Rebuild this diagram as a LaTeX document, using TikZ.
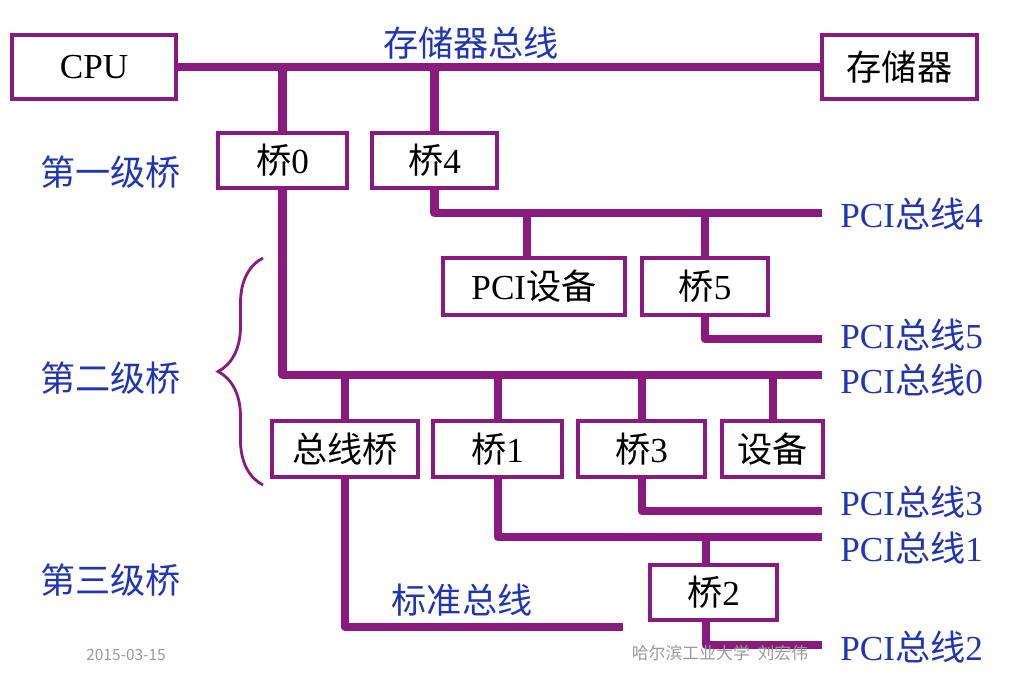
\documentclass[tikz,border=0pt]{standalone}
\usepackage{fontspec}
\setmainfont{Liberation Serif}
\newfontfamily\zhfont{Noto Sans CJK SC}
\newcommand{\zh}[1]{{\zhfont #1}}
\usepackage{tikz}
\usetikzlibrary{decorations.pathreplacing}
\definecolor{BusPurple}{HTML}{8A1A7E}
\definecolor{LabelBlue}{HTML}{2035B5}
\definecolor{FootGray}{HTML}{9A9A9A}

\begin{document}
\begin{tikzpicture}[x=0.025cm,y=-0.025cm,
 unitbox/.style={draw=BusPurple,line width=2.6pt,fill=white,inner sep=0pt,minimum height=1.375cm,font=\fontsize{25}{30}\selectfont},
 bus/.style={draw=BusPurple,line width=5.7pt,line join=round},
 buslabel/.style={anchor=west,inner sep=0pt,text=LabelBlue,font=\fontsize{25}{30}\selectfont},
 levellabel/.style={anchor=west,inner sep=0pt,text=LabelBlue,font=\fontsize{25}{30}\selectfont\zhfont},
 footer/.style={inner sep=0pt,text=FootGray,font=\fontsize{12}{14}\selectfont\zhfont}]
\useasboundingbox (0,0) rectangle (1011,674);
\node[unitbox,minimum width=4.1cm,minimum height=1.6cm] (cpu) at (94,67) {CPU};
\node[unitbox,minimum width=3.875cm,minimum height=1.6cm] (mem) at (899.5,67) {\zh{存储器}};
\node[unitbox,minimum width=3.225cm] (b0) at (282.5,160.5) {\zh{桥}0};
\node[unitbox,minimum width=3.125cm] (b4) at (434.5,160.5) {\zh{桥}4};
\node[unitbox,minimum width=4.55cm,minimum height=1.425cm] (pcidev) at (534,286.5) {PCI\zh{设备}};
\node[unitbox,minimum width=3.15cm,minimum height=1.425cm] (b5) at (705,286.5) {\zh{桥}5};
\node[unitbox,minimum width=3.65cm,minimum height=1.4cm] (sb) at (345,449) {\zh{总线桥}};
\node[unitbox,minimum width=3.225cm,minimum height=1.4cm] (b1) at (497.5,449) {\zh{桥}1};
\node[unitbox,minimum width=3.175cm,minimum height=1.4cm] (b3) at (641.5,449) {\zh{桥}3};
\node[unitbox,minimum width=2.525cm,minimum height=1.4cm] (dev) at (772.5,449) {\zh{设备}};
\node[unitbox,minimum width=3.175cm] (b2) at (713.5,592.5) {\zh{桥}2};
\coordinate (e4) at (822,213);
\coordinate (e5) at (822,339);
\coordinate (e0) at (822,375);
\coordinate (e3) at (822,511);
\coordinate (e1) at (822,537);
\coordinate (e2) at (822,645);
\coordinate (estd) at (623,627);
\coordinate (devtap) at ([xshift=-0.18cm]pcidev.north);
\coordinate (b2in) at ([xshift=-0.2cm]b2.north);
\coordinate (b2out) at ([xshift=-0.2cm]b2.south);
\coordinate (brtop) at (263,258);
\coordinate (brbot) at (263,485);
\draw[bus] (cpu.east) -- (mem.west);
\draw[bus] (b0.north) -- (b0.north |- cpu.east);\draw[bus] (b4.north) -- (b4.north |- cpu.east);
\draw[bus] (b4.south) |- (e4);\draw[bus] (devtap) -- (devtap |- e4);\draw[bus] (b5.north) -- (b5.north |- e4);
\draw[bus] (b5.south) |- (e5);
\draw[bus] (b0.south) |- (e0);
\draw[bus] (sb.north) -- (sb.north |- e0);\draw[bus] (b1.north) -- (b1.north |- e0);\draw[bus] (b3.north) -- (b3.north |- e0);\draw[bus] (dev.north) -- (dev.north |- e0);
\draw[bus] (b3.south) |- (e3);\draw[bus] (b1.south) |- (e1);
\draw[bus] (b2in) -- (b2in |- e1);\draw[bus] (b2out) |- (e2);
\draw[bus] (sb.south) |- (estd);
\draw[BusPurple,line width=2pt,decorate,decoration={brace,amplitude=1.125cm}] (brbot) -- (brtop);
\node[text=LabelBlue,font=\fontsize{25}{30}\selectfont\zhfont,inner sep=0pt] (membus) at (471,43) {存储器总线};
\node[text=LabelBlue,font=\fontsize{25}{30}\selectfont\zhfont,inner sep=0pt] (stdbus) at (462,600) {标准总线};
\node[buslabel] (l4) at (840,214) {PCI\zh{总线}4};
\node[buslabel] (l5) at (840,335) {PCI\zh{总线}5};
\node[buslabel] (l0) at (840,380) {PCI\zh{总线}0};
\node[buslabel] (l3) at (840,502) {PCI\zh{总线}3};
\node[buslabel] (l1) at (840,548) {PCI\zh{总线}1};
\node[buslabel] (l2) at (840,647) {PCI\zh{总线}2};
\node[levellabel] (lv1) at (40,172) {第一级桥};
\node[levellabel] (lv2) at (40,378) {第二级桥};
\node[levellabel] (lv3) at (40,580) {第三级桥};
\node[footer,font=\fontsize{11}{13}\selectfont\zhfont] (date) at (126,655) {2015-03-15};
\node[footer] (school) at (720,653) {哈尔滨工业大学\ \ 刘宏伟};
\end{tikzpicture}
\end{document}
